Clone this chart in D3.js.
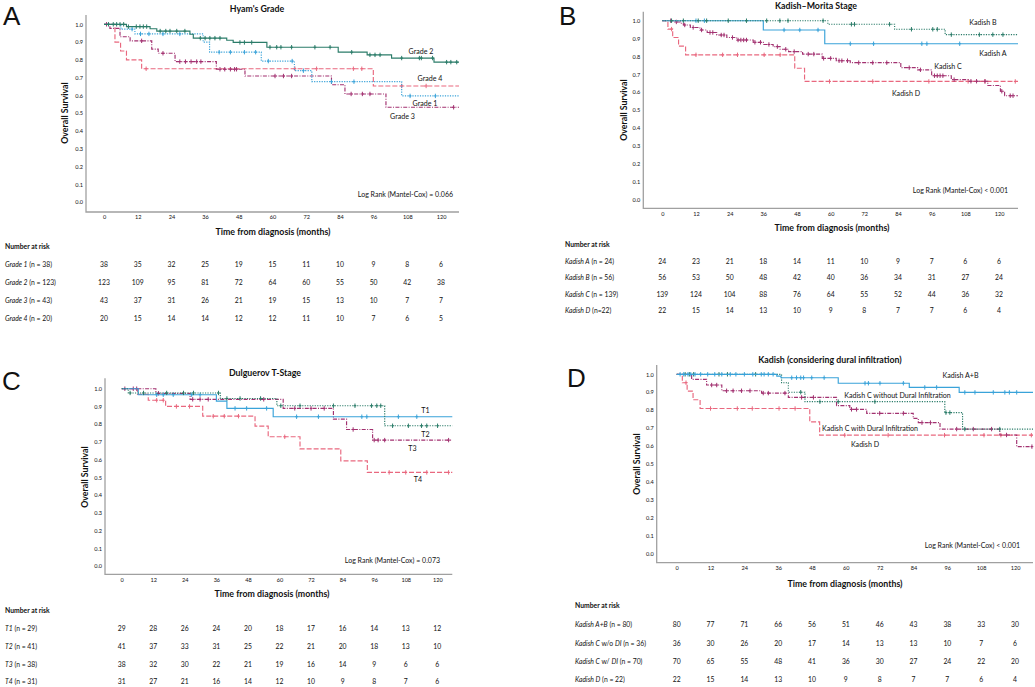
<!DOCTYPE html>
<html>
<head>
<meta charset="utf-8">
<script src="https://cdn.jsdelivr.net/npm/d3@7"></script>
<style>
  body { margin: 0; background: #fff; }
  text { font-family: Lato, "Open Sans", sans-serif; fill: #111; }
</style>
</head>
<body>
<svg id="chart" width="1035" height="687"></svg>
<script>
// ---- shared ticks ----
const months = [0, 12, 24, 36, 48, 60, 72, 84, 96, 108, 120];
const survTicks = [0, 0.1, 0.2, 0.3, 0.4, 0.5, 0.6, 0.7, 0.8, 0.9, 1.0];

// ---- A: Hyam's grade  (steps are [month, survival]) ----
const gradeLabels = ["Grade 1", "Grade 2", "Grade 3", "Grade 4"];
const gradeRiskLabels = ["*Grade 1* (n = 38)", "*Grade 2* (n = 123)", "*Grade 3* (n = 43)", "*Grade 4* (n = 20)"];
const grade1 = [[0, 1], [6, 0.973], [11, 0.946], [35.3, 0.9], [37.6, 0.843], [56, 0.793], [67.8, 0.739], [74, 0.677], [106, 0.597]];
const grade1Cens = [10, 13, 16, 21, 27, 41, 45, 50, 54, 58.5, 67, 71, 81, 89, 109, 118];
const grade2 = [[0, 1], [8, 0.987], [16.4, 0.975], [18.8, 0.962], [30.6, 0.944], [31.8, 0.922], [43.7, 0.91], [46, 0.898], [58, 0.871], [83.4, 0.843], [93.7, 0.828], [102.4, 0.81], [117.5, 0.787]];
const grade2Cens = [1.6, 3.3, 4.5, 5.7, 7, 8.7, 11.5, 12.8, 14, 15.2, 20, 22, 23.5, 25.9, 28.8, 34.3, 36, 37.7, 39.5, 41.3, 48.4, 50, 52.6, 59.1, 61.5, 63, 66.8, 75.1, 80.5, 88.2, 94.7, 96.5, 98.3, 106, 112.3, 113, 117, 122, 123.5, 125.6];
const grade3 = [[0, 1], [2.1, 0.977], [5.7, 0.93], [9.3, 0.907], [17, 0.86], [19.3, 0.837], [25.3, 0.79], [40, 0.747], [50.2, 0.709], [81, 0.66], [85.8, 0.608], [100.4, 0.533]];
const grade3Cens = [0.9, 13.4, 21, 27, 29, 31, 33, 34.5, 41.3, 43, 45, 46.5, 47.2, 60.9, 63.9, 66.8, 88, 92, 94.7, 124.5];
const grade4 = [[0, 1], [3.9, 0.9], [5.9, 0.85], [8, 0.8], [13.4, 0.75], [95.9, 0.653]];
const grade4Cens = [15, 68, 75.7, 88.8, 91.8, 106, 114.7];
const grade1Risk = [38, 35, 32, 25, 19, 15, 11, 10, 9, 8, 6];
const grade2Risk = [123, 109, 95, 81, 72, 64, 60, 55, 50, 42, 38];
const grade3Risk = [43, 37, 31, 26, 21, 19, 15, 13, 10, 7, 7];
const grade4Risk = [20, 15, 14, 14, 12, 12, 11, 10, 7, 6, 5];

// ---- B: Kadish-Morita ----
const kadishLabels = ["Kadish A", "Kadish B", "Kadish C", "Kadish D"];
const kadishRiskLabels = ["*Kadish A* (n = 24)", "*Kadish B* (n = 56)", "*Kadish C* (n = 139)", "*Kadish D* (n=22)"];
const kadishA = [[0, 1], [36, 0.948], [57.9, 0.871]];
const kadishACens = [12, 15, 43.4, 49, 55.5, 67, 75.3, 92.5, 94.3, 106];
const kadishB = [[0, 1], [59, 0.98], [82.8, 0.952], [100.8, 0.922]];
const kadishBCens = [3.3, 7.5, 12.8, 15.8, 23.5, 30, 37.2, 41.9, 44.8, 57.3, 67.4, 68.5, 81, 88.8, 96.4, 98, 103, 113, 117.8, 121.4];
const kadishC = [[0, 1], [4, 0.993], [6.5, 0.986], [7.5, 0.976], [10, 0.962], [13.4, 0.948], [16, 0.934], [19.4, 0.92], [23, 0.906], [26.5, 0.892], [32.4, 0.879], [36, 0.867], [39.5, 0.855], [42, 0.84], [45, 0.827], [50, 0.813], [57, 0.789], [62, 0.776], [67, 0.765], [85, 0.737], [91, 0.725], [96, 0.692], [103, 0.67], [109, 0.661], [116, 0.637], [120.5, 0.605], [122, 0.58]];
const kadishCCens = [3, 5, 8, 11, 14, 17, 18, 21, 22, 25, 27, 28, 29, 30, 33, 35, 38, 41, 44, 47, 52, 54, 57.5, 60, 63, 64, 66, 70, 75, 80, 88, 92, 97, 98, 99, 100, 104, 110, 112, 115, 121, 124, 125];
const kadishD = [[0, 1], [2, 0.953], [3.7, 0.906], [5.8, 0.858], [8.3, 0.809], [47.2, 0.734], [50.7, 0.66]];
const kadishDCens = [3.3, 12, 21.5, 26.8, 36.3, 42, 59.6, 75, 95, 109, 115, 125.8];
const kadishARisk = [24, 23, 21, 18, 14, 11, 10, 9, 7, 6, 6];
const kadishBRisk = [56, 53, 50, 48, 42, 40, 36, 34, 31, 27, 24];
const kadishCRisk = [139, 124, 104, 88, 76, 64, 55, 52, 44, 36, 32];
const kadishDRisk = [22, 15, 14, 13, 10, 9, 8, 7, 7, 6, 4];

// ---- C: Dulguerov T-stage ----
const tLabels = ["T1", "T2", "T3", "T4"];
const tRiskLabels = ["*T1* (n = 29)", "*T2* (n = 41)", "*T3* (n = 38)", "*T4* (n = 31)"];
const t1 = [[0, 1], [6.3, 0.966], [36, 0.93], [40, 0.889], [57.6, 0.842]];
const t1Cens = [13.3, 15.8, 19.6, 26.6, 29.8, 43.1, 47.5, 55.1, 66.5, 74.8, 91.3, 93.2, 105.2, 112.2];
const t2 = [[0, 1], [2.5, 0.976], [37.5, 0.945], [59, 0.904], [100, 0.791]];
const t2Cens = [3.2, 8.3, 17.1, 23.5, 27.3, 36.8, 40, 45, 52.8, 60.5, 67.8, 80.5, 88.7, 95, 97, 98.5, 103, 109, 114, 116, 120.1];
const t3 = [[0, 1], [13, 0.974], [26, 0.94], [61.4, 0.889], [80.5, 0.828], [85.5, 0.77], [95.4, 0.71]];
const t3Cens = [1.2, 4.4, 5.7, 14, 27, 29.8, 32.9, 54, 65.8, 72, 77, 88, 96, 97.5, 100, 124.3];
const t4 = [[0, 1], [6, 0.968], [10.1, 0.935], [16.7, 0.9], [30.8, 0.845], [50.7, 0.789], [55.7, 0.729], [67.8, 0.661], [83.3, 0.593], [93.4, 0.528]];
const t4Cens = [13.3, 15.8, 20.8, 25.8, 34.8, 39, 44.4, 62, 101.7, 108, 116, 124.3];
const t1Risk = [29, 28, 26, 24, 20, 18, 17, 16, 14, 13, 12];
const t2Risk = [41, 37, 33, 31, 25, 22, 21, 20, 18, 13, 10];
const t3Risk = [38, 32, 30, 22, 21, 19, 16, 14, 9, 6, 6];
const t4Risk = [31, 27, 21, 16, 14, 12, 10, 9, 8, 7, 6];

// ---- D: Kadish considering dural infiltration ----
const duralLabels = ["Kadish A+B", "Kadish C without Dural Infiltration", "Kadish C with Dural Infiltration", "Kadish D"];
const duralRiskLabels = ["*Kadish A+B* (n = 80)", "*Kadish C* w/o *DI* (n = 36)", "*Kadish C* w/ *DI* (n = 70)", "*Kadish D* (n = 22)"];
const kadishAB = [[0, 1], [35.5, 0.99], [37, 0.981], [57.3, 0.95], [82.5, 0.927], [100.2, 0.899]];
const kadishABCens = [1.2, 2.5, 4, 5, 6.5, 8.5, 11, 13.5, 16, 19, 21, 24, 27, 30, 31, 32.5, 34.2, 40.8, 42.5, 44, 45, 47.9, 52.3, 66.8, 68, 72.1, 80.4, 88, 92.2, 102.2, 105.8, 112.3, 116.4, 118, 120.6];
const kadishCwo = [[0, 1], [37.2, 0.953], [39.6, 0.9], [45.5, 0.847], [95.1, 0.786], [101.4, 0.694]];
const kadishCwoCens = [3, 4.5, 6, 15, 18, 28, 44, 50.8, 57.3, 70.3, 95.5, 96.9, 102.2, 114.6];
const kadishCw = [[0, 1], [5.3, 0.972], [10.6, 0.94], [16, 0.908], [30.1, 0.895], [39.6, 0.871], [56.7, 0.825], [61.4, 0.804], [67.4, 0.782], [83.9, 0.754], [85.7, 0.73], [93.4, 0.694], [114.6, 0.661], [120.6, 0.596]];
const kadishCwCens = [12.4, 14.2, 17.7, 20, 23, 26, 30.7, 32.5, 38.4, 44.3, 48.5, 62, 63.8, 72, 80.4, 87, 90, 99.3, 105.2, 111.7, 117, 126];
const abRisk = [80, 77, 71, 66, 56, 51, 46, 43, 38, 33, 30];
const cwoRisk = [36, 30, 26, 20, 17, 14, 13, 13, 10, 7, 6];
const cwRisk = [70, 65, 55, 48, 41, 36, 30, 27, 24, 22, 20];

// ---- styles ----
const blue = "#3aa3d9", green = "#2b7c69", magenta = "#a23170", pink = "#e9687f";
const solid = null, dotted = "1.2,1.3", dashdot = "4,1.4,1,1.4", dashed = "5,2";

const panels = [
  {
    letter: "A", letterPos: [3, 25], title: "Hyam's Grade", titlePos: [257, 12],
    left: 86, top: 15, bottom: 212, right: 459, x0: 104, x120: 441, y0: 202, y1: 24.3,
    yLabelPos: [67.5, 113], xTitlePos: [273, 235], logRank: "Log Rank (Mantel-Cox) = 0.066", logPos: [453, 197],
    riskX: 5, riskHead: 249, riskY: [267, 285, 303, 321], riskLabels: gradeRiskLabels,
    series: [
      { steps: grade4, cens: grade4Cens, color: pink, dash: dashed },
      { steps: grade3, cens: grade3Cens, color: magenta, dash: dashdot },
      { steps: grade1, cens: grade1Cens, color: blue, dash: dotted },
      { steps: grade2, cens: grade2Cens, color: green, dash: solid }
    ],
    riskOrder: [grade1Risk, grade2Risk, grade3Risk, grade4Risk],
    labels: gradeLabels, labelPos: [[425, 106], [421, 54], [402.5, 119], [430, 81]]
  },
  {
    letter: "B", letterPos: [559, 25], title: "Kadish\u2013Morita Stage", titlePos: [816, 8.5],
    left: 643.3, top: 11.7, bottom: 208.3, right: 1018, x0: 662.3, x120: 999, y0: 199.3, y1: 20.7,
    yLabelPos: [626.5, 110], xTitlePos: [832, 231], logRank: "Log Rank (Mantel-Cox) < 0.001", logPos: [1008, 193],
    riskX: 565, riskHead: 247, riskY: [264, 280, 296.5, 313], riskLabels: kadishRiskLabels,
    series: [
      { steps: kadishD, cens: kadishDCens, color: pink, dash: dashed },
      { steps: kadishC, cens: kadishCCens, color: magenta, dash: dashdot },
      { steps: kadishA, cens: kadishACens, color: blue, dash: solid },
      { steps: kadishB, cens: kadishBCens, color: green, dash: dotted }
    ],
    riskOrder: [kadishARisk, kadishBRisk, kadishCRisk, kadishDRisk],
    labels: kadishLabels, labelPos: [[993, 56], [983, 25], [948, 68.5], [906, 95.5]]
  },
  {
    letter: "C", letterPos: [2, 390], title: "Dulguerov T-Stage", titlePos: [265, 376],
    left: 105, top: 378.3, bottom: 574.3, right: 452.3, x0: 121.7, x120: 437.3, y0: 566, y1: 388.7,
    yLabelPos: [87.5, 477], xTitlePos: [272, 596.5], logRank: "Log Rank (Mantel-Cox) = 0.073", logPos: [440, 563],
    riskX: 5, riskHead: 613, riskY: [630.5, 648.5, 666.5, 684], riskLabels: tRiskLabels,
    series: [
      { steps: t4, cens: t4Cens, color: pink, dash: dashed },
      { steps: t3, cens: t3Cens, color: magenta, dash: dashdot },
      { steps: t1, cens: t1Cens, color: blue, dash: solid },
      { steps: t2, cens: t2Cens, color: green, dash: dotted }
    ],
    riskOrder: [t1Risk, t2Risk, t3Risk, t4Risk],
    labels: tLabels, labelPos: [[425.5, 412.5], [425.5, 437], [412.5, 451], [418, 482]]
  },
  {
    letter: "D", letterPos: [567, 387], title: "Kadish (considering dural infiltration)", titlePos: [830, 363],
    left: 656.7, top: 365, bottom: 562.7, right: 1033, x0: 676.7, x120: 1015, y0: 553.3, y1: 374.3,
    yLabelPos: [639.5, 464], xTitlePos: [845, 586.5], logRank: "Log Rank (Mantel-Cox) < 0.001", logPos: [1020, 548],
    riskX: 575, riskHead: 608, riskY: [626.5, 645.5, 663.5, 681.5], riskLabels: duralRiskLabels,
    series: [
      { steps: kadishD, cens: kadishDCens, color: pink, dash: dashed },
      { steps: kadishCw, cens: kadishCwCens, color: magenta, dash: dashdot },
      { steps: kadishCwo, cens: kadishCwoCens, color: green, dash: dotted },
      { steps: kadishAB, cens: kadishABCens, color: blue, dash: solid }
    ],
    riskOrder: [abRisk, cwoRisk, cwRisk, kadishDRisk],
    labels: duralLabels, labelPos: [[960.5, 377.5], [897.5, 397.5], [870, 430.5], [865, 446.5]]
  }
];

const svg = d3.select("#chart");

function survivalAt(steps, t) {
  let s = steps[0][1];
  steps.forEach(function(d) { if (d[0] <= t) s = d[1]; });
  return s;
}

// "*italic* normal" -> tspans
function richText(sel, str) {
  str.split("*").forEach(function(part, i) {
    if (part) sel.append("tspan").attr("font-style", i % 2 ? "italic" : "normal").text(part);
  });
}

function drawPanel(p) {
  const g = svg.append("g");
  const x = d3.scaleLinear().domain([0, 120]).range([p.x0, p.x120]);
  const y = d3.scaleLinear().domain([0, 1]).range([p.y0, p.y1]);
  const tEnd = x.invert(p.right);

  g.append("text").attr("x", p.letterPos[0]).attr("y", p.letterPos[1])
    .style("font-family", "'Liberation Sans', Arial, sans-serif").attr("font-size", 26).text(p.letter);

  g.append("text").attr("x", p.titlePos[0]).attr("y", p.titlePos[1])
    .attr("text-anchor", "middle").attr("font-size", 8.8).attr("font-weight", "bold").text(p.title);

  // axis frame
  g.append("path").attr("d", "M" + p.left + "," + p.top + "V" + p.bottom + "H" + p.right)
    .attr("fill", "none").attr("stroke", "#a0a0a0").attr("stroke-width", 1.3);

  const yAxis = g.append("g").attr("transform", "translate(" + p.left + ",0)")
    .call(d3.axisLeft(y).tickValues(survTicks).tickSize(0).tickPadding(3).tickFormat(d3.format(".1f")));
  const xAxis = g.append("g").attr("transform", "translate(0," + p.bottom + ")")
    .call(d3.axisBottom(x).tickValues(months).tickSize(0).tickPadding(3.5));
  [yAxis, xAxis].forEach(function(a) {
    a.select(".domain").remove();
    a.selectAll("text").attr("font-size", 5.6).attr("fill", "#222")
      .style("font-family", "Lato, sans-serif");
  });

  g.append("text").attr("transform", "translate(" + p.yLabelPos[0] + "," + p.yLabelPos[1] + ") rotate(-90)")
    .attr("text-anchor", "middle").attr("font-size", 8.8).attr("font-weight", "bold").text("Overall Survival");
  g.append("text").attr("x", p.xTitlePos[0]).attr("y", p.xTitlePos[1])
    .attr("text-anchor", "middle").attr("font-size", 8.8).attr("font-weight", "bold").text("Time from diagnosis (months)");
  g.append("text").attr("x", p.logPos[0]).attr("y", p.logPos[1])
    .attr("text-anchor", "end").attr("font-size", 7).text(p.logRank);

  const line = d3.line().x(function(d) { return x(d[0]); }).y(function(d) { return y(d[1]); }).curve(d3.curveStepAfter);

  p.series.forEach(function(s) {
    const pts = s.steps.concat([[tEnd, s.steps[s.steps.length - 1][1]]]);
    g.append("path").datum(pts).attr("d", line).attr("fill", "none")
      .attr("stroke", s.color).attr("stroke-width", 1.15).attr("stroke-dasharray", s.dash);
    // censor ticks as small "+" marks
    const marks = g.selectAll(null).data(s.cens).join("path")
      .attr("d", function(t) {
        const cx = x(t), cy = y(survivalAt(s.steps, t));
        return "M" + cx + "," + (cy - 2.2) + "V" + (cy + 2.2) + "M" + (cx - 1.4) + "," + cy + "H" + (cx + 1.4);
      })
      .attr("fill", "none").attr("stroke", s.color).attr("stroke-width", 1);
  });

  p.labels.forEach(function(lab, i) {
    g.append("text").attr("x", p.labelPos[i][0]).attr("y", p.labelPos[i][1])
      .attr("text-anchor", "middle").attr("font-size", 7.1).text(lab);
  });

  // number at risk table
  g.append("text").attr("x", p.riskX).attr("y", p.riskHead)
    .attr("font-size", 6.8).attr("font-weight", "bold").text("Number at risk");
  p.riskOrder.forEach(function(row, i) {
    const t = g.append("text").attr("x", p.riskX).attr("y", p.riskY[i]).attr("font-size", 6.8);
    richText(t, p.riskLabels[i]);
    g.selectAll(null).data(row).join("text")
      .attr("x", function(d, j) { return x(months[j]); }).attr("y", p.riskY[i])
      .attr("text-anchor", "middle").attr("font-size", 6.8).text(function(d) { return d; });
  });
}

panels.forEach(drawPanel);
</script>
</body>
</html>
